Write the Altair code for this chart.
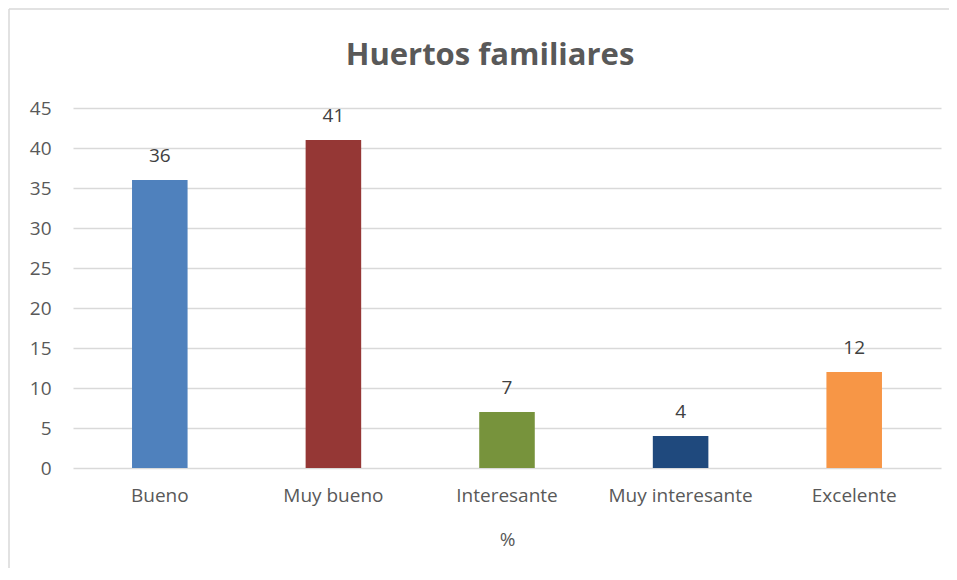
import altair as alt
import pandas as pd

categories = ["Bueno", "Muy bueno", "Interesante", "Muy interesante", "Excelente"]
values = [36, 41, 7, 4, 12]
colors = ["#4F81BD", "#953735", "#77933C", "#1F497D", "#F79646"]
title_text = ["Huertos familiares"]
y_ticks = [0, 5, 10, 15, 20, 25, 30, 35, 40, 45]

df = pd.DataFrame({"cat": categories, "val": values, "color": colors})

FONT = "Open Sans"
TXT = "#595959"
FS = 19

base = alt.Chart(df)

x_enc = alt.X("cat:N", sort=categories, title="%",
              scale=alt.Scale(paddingInner=0.68, paddingOuter=0.34),
              axis=alt.Axis(labelAngle=0, domain=False, ticks=False, labelPadding=18,
                            labelFontSize=FS, labelColor=TXT, labelFont=FONT,
                            titleFont=FONT, titleFontSize=FS, titleColor=TXT,
                            titleFontWeight="normal", titlePadding=25))
y_enc = alt.Y("val:Q", title=None,
              scale=alt.Scale(domain=[0, 45]),
              axis=alt.Axis(values=y_ticks, domain=False, ticks=False,
                            labelOverlap=False,
                            labelPadding=22, labelFontSize=FS, labelColor=TXT, labelFont=FONT,
                            gridColor="#D9D9D9", gridWidth=1.3))

bars = base.mark_bar().encode(
    x=x_enc, y=y_enc,
    color=alt.Color("color:N", scale=None),
)

labels = base.mark_text(dy=-24, fontSize=FS, font=FONT, color="#404040").encode(
    x=x_enc, y=y_enc, text="val:Q"
)

title = alt.Chart(pd.DataFrame({"t": title_text})).mark_text(
    font=FONT, fontSize=31, fontWeight="bold", color=TXT, baseline="middle"
).encode(x=alt.value(417), y=alt.value(-52), text="t:N")

frame = alt.Chart(pd.DataFrame({"k": [0]})).mark_rule(color="#D9D9D9", strokeWidth=1.5).encode(
    x=alt.value(-64), x2=alt.value(-64), y=alt.value(-99), y2=alt.value(480)
)
frame_top = alt.Chart(pd.DataFrame({"k": [0]})).mark_rule(color="#D9D9D9", strokeWidth=1.5).encode(
    x=alt.value(-64), x2=alt.value(900), y=alt.value(-99), y2=alt.value(-99)
)

chart = alt.layer(frame, frame_top, bars, labels, title).properties(
    width=868, height=360,
    background="white",
    autosize=alt.AutoSizeParams(type="none"),
    padding={"left": 65, "top": 100, "right": 8, "bottom": 100},
).configure_view(strokeWidth=0, stroke="transparent")

chart.save("out.html", embed_options={"renderer": "svg", "actions": False})
